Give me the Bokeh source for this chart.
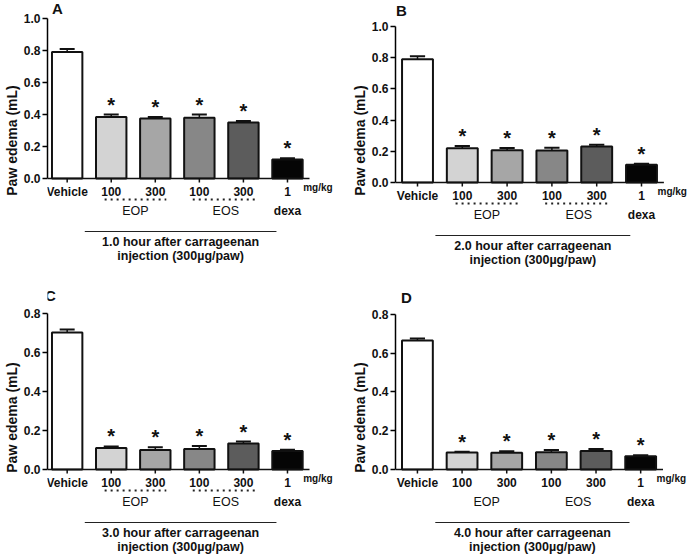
from bokeh.plotting import figure
from bokeh.layouts import gridplot
from bokeh.models import FixedTicker, Range1d, PrintfTickFormatter
from bokeh.core.properties import value
from bokeh.embed import file_html
from bokeh.resources import INLINE

# ---------------- data ----------------
groups = ["Vehicle", "EOP 100", "EOP 300", "EOS 100", "EOS 300", "dexa 1"]
dose_labels = ["Vehicle", "100", "300", "100", "300", "1"]
group_names = ["EOP", "EOS", "dexa"]
unit_label = "mg/kg"
bar_colors = ["#ffffff", "#d3d3d3", "#a6a6a6", "#878787", "#5c5c5c", "#050505"]
significant = [False, True, True, True, True, True]

hours = ["1.0", "2.0", "3.0", "4.0"]
panel_letters = ["A", "B", "C", "D"]

means_A = [0.790, 0.385, 0.375, 0.380, 0.350, 0.118]
sem_A = [0.020, 0.015, 0.010, 0.020, 0.010, 0.008]
means_B = [0.790, 0.220, 0.207, 0.205, 0.230, 0.113]
sem_B = [0.020, 0.014, 0.014, 0.017, 0.012, 0.007]
means_C = [0.703, 0.110, 0.100, 0.105, 0.133, 0.095]
sem_C = [0.015, 0.008, 0.014, 0.015, 0.010, 0.006]
means_D = [0.665, 0.088, 0.086, 0.089, 0.096, 0.068]
sem_D = [0.010, 0.004, 0.008, 0.012, 0.010, 0.006]

yticks_AB = [0.0, 0.2, 0.4, 0.6, 0.8, 1.0]
yticks_CD = [0.0, 0.2, 0.4, 0.6, 0.8]

FONT = "Liberation Sans"
UNIT = 44.8  # px per category


def make_panel(letter, hour, means, sems, yticks, W, H, zero_px, ppu, left,
               veh_gap, dotted, letter_dx, letter_dy):
    px = 1.0 / ppu
    x0 = 1 - veh_gap / UNIT
    x1 = x0 + (W - left) / UNIT
    y1 = zero_px / ppu
    y0 = -(H - zero_px) / ppu
    p = figure(width=W, height=H, x_range=Range1d(x0, x1), y_range=Range1d(y0, y1),
               x_axis_location=None, output_backend="svg", toolbar_location=None,
               min_border_left=left, min_border_right=0, min_border_top=0,
               min_border_bottom=0)
    p.outline_line_color = None
    p.xgrid.visible = False
    p.ygrid.visible = False

    ax = p.yaxis[0]
    ax.bounds = (0, yticks[-1])
    ax.ticker = FixedTicker(ticks=yticks)
    ax.formatter = PrintfTickFormatter(format="%.1f")
    ax.major_label_text_font = FONT
    ax.major_label_text_font_style = "bold"
    ax.major_label_text_font_size = "12px"
    ax.major_label_text_color = "#111111"
    ax.major_label_standoff = 2
    ax.major_tick_out = 5
    ax.major_tick_in = 0
    ax.minor_tick_out = 0
    ax.minor_tick_in = 0
    ax.axis_line_width = 1.5
    ax.major_tick_line_width = 1.5
    ax.axis_label = "Paw edema (mL)"
    ax.axis_label_text_font = FONT
    ax.axis_label_text_font_style = "bold"
    ax.axis_label_text_font_size = "14px"
    ax.axis_label_standoff = 1
    ax.axis_label_text_color = "#111111"

    xs = list(range(1, len(means) + 1))
    tops = [m + s for m, s in zip(means, sems)]

    # bars
    p.vbar(x=xs, top=means, bottom=0, width=0.69, fill_color=bar_colors,
           line_color="#111111", line_width=2)
    # error bars (upper only)
    p.segment(x0=xs, y0=means, x1=xs, y1=tops, line_color="#111111", line_width=1.5)
    p.segment(x0=[x - 0.17 for x in xs], y0=tops, x1=[x + 0.17 for x in xs], y1=tops,
              line_color="#111111", line_width=2)
    # x axis line and ticks
    p.segment(x0=[x0], y0=[0], x1=[6.5], y1=[0], line_color="#111111", line_width=1.5)
    p.segment(x0=xs, y0=[0] * len(xs), x1=xs, y1=[-4 * px] * len(xs),
              line_color="#111111", line_width=1.5)
    # stars
    sx = [x for x, s in zip(xs, significant) if s]
    sy = [t + 10 * px for t, s in zip(tops, significant) if s]
    p.text(x=sx, y=sy, text=["*"] * len(sx), text_align="center", text_baseline="middle",
           text_font=value(FONT), text_font_style="bold", text_font_size=value("20px"),
           text_color="#111111")
    # category labels
    p.text(x=xs, y=[-13 * px] * len(xs), text=dose_labels, text_align="center",
           text_baseline="middle", text_font=value(FONT), text_font_style="bold",
           text_font_size=value("12px"), text_color="#111111")
    p.text(x=[6 + 16 / UNIT], y=[-9 * px], text=[unit_label], text_align="left",
           text_baseline="middle", text_font=value(FONT), text_font_style="bold",
           text_font_size=value("10px"), text_color="#111111")
    if dotted:
        p.segment(x0=[1.85, 3.85], y0=[-21 * px] * 2, x1=[3.25, 5.3], y1=[-21 * px] * 2,
                  line_color="#222222", line_width=2, line_dash="2 4")
    p.text(x=[2.55, 4.6], y=[-32 * px] * 2, text=group_names[:2], text_align="center",
           text_baseline="middle", text_font=value(FONT), text_font_style="normal",
           text_font_size=value("12.5px"), text_color="#111111")
    p.text(x=[6], y=[-32 * px], text=[group_names[2]], text_align="center",
           text_baseline="middle", text_font=value(FONT), text_font_style="bold",
           text_font_size=value("12px"), text_color="#111111")
    # caption
    p.segment(x0=[1.4], y0=[-53 * px], x1=[5.75], y1=[-53 * px], line_color="#222222",
              line_width=1)
    p.text(x=[3.575, 3.575], y=[-63 * px, -77 * px],
           text=[hour + " hour after carrageenan", "injection (300\u00b5g/paw)"],
           text_align="center", text_baseline="middle", text_font=value(FONT),
           text_font_style="bold", text_font_size=value("12.5px"), text_color="#111111")
    # panel letter
    p.text(x=[x0 + letter_dx / UNIT], y=[yticks[-1] + letter_dy * px], text=[letter],
           text_align="center", text_baseline="middle", text_font=value(FONT),
           text_font_style="bold", text_font_size=value("15px"), text_color="#111111")
    return p


pA = make_panel(panel_letters[0], hours[0], means_A, sem_A, yticks_AB, 345, 280, 178, 160, 42, 20, True, 10, 10)
pB = make_panel(panel_letters[1], hours[1], means_B, sem_B, yticks_AB, 346, 280, 182, 156, 50, 22, True, 6, 16)
pC = make_panel(panel_letters[2], hours[2], means_C, sem_C, yticks_CD, 345, 274, 189, 195, 42, 20, True, 3, 18)
pD = make_panel(panel_letters[3], hours[3], means_D, sem_D, yticks_CD, 346, 274, 189, 194, 49, 22, False, 11, 17)

grid = gridplot([[pA, pB], [pC, pD]], toolbar_location=None)
open("out.html", "w").write(file_html(grid, INLINE))
